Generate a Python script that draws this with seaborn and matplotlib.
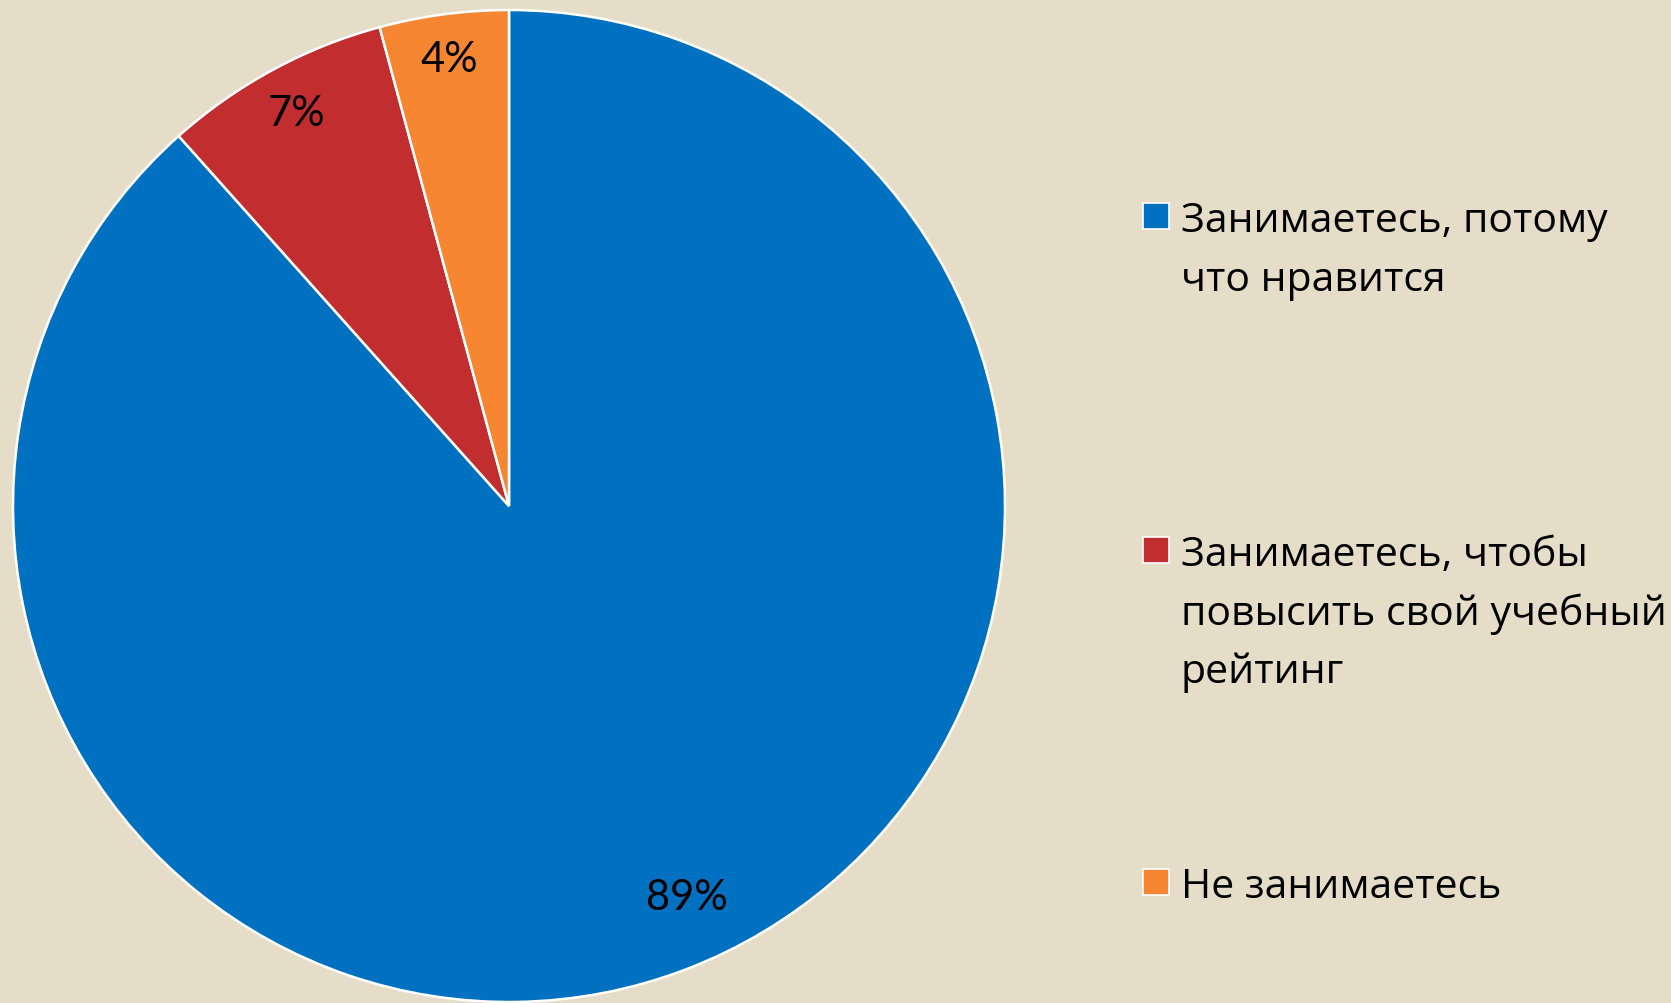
import matplotlib
matplotlib.use("Agg")
import matplotlib.pyplot as plt
import seaborn as sns
import numpy as np
from matplotlib.patches import Rectangle

categories = ["Занимаетесь, потому\nчто нравится",
              "Занимаетесь, чтобы\nповысить свой учебный\nрейтинг",
              "Не занимаетесь"]
values = [88.4, 7.4, 4.2]
pct_labels = ["89%", "7%", "4%"]
colors = ["#0070C0", "#C22D2F", "#F68631"]
bg = "#E5DDC8"

sns.set_style("white")
plt.rcParams['font.family'] = ['Open Sans', 'DejaVu Sans']

W, H = 1671, 1004
fig = plt.figure(figsize=(W / 100, H / 100), dpi=100, facecolor=bg)
cx, cy, r = 509, 507, 496
ax = fig.add_axes([(cx - r) / W, (H - cy - r) / H, 2 * r / W, 2 * r / H])
ax.set_facecolor(bg)
wedges, _ = ax.pie(values, colors=colors, startangle=90, counterclock=False,
                   radius=1.0, wedgeprops=dict(edgecolor="white", linewidth=1.8))
ax.set_xlim(-1, 1)
ax.set_ylim(-1, 1)
ax.set_aspect("equal")
ax.axis("off")

dists = [0.866, 0.90, 0.91]
ang_off = [3.6, 0.0, 0.0]
for w, lab, d, o in zip(wedges, pct_labels, dists, ang_off):
    ang = np.deg2rad((w.theta1 + w.theta2) / 2 + o)
    ax.text(d * np.cos(ang), d * np.sin(ang), lab, ha="center", va="center",
            fontsize=30, color="black", family=["Lato", "DejaVu Sans"])

# legend
sq_y = [217, 551, 883]  # square centres (px from top)
line_step = 58.6
for lab, col, yc in zip(categories, colors, sq_y):
    fig.patches.append(Rectangle((1143 / W, 1 - (yc + 13) / H), 26 / W, 26 / H,
                                 transform=fig.transFigure, facecolor=col,
                                 edgecolor="white", linewidth=1.2))
    for i, line in enumerate(lab.split("\n")):
        fig.text(1181 / W, 1 - (yc + 15 + i * line_step) / H, line, ha="left",
                 va="baseline", fontsize=29.5, color="black")

fig.savefig("out.png", dpi=100, facecolor=bg)
